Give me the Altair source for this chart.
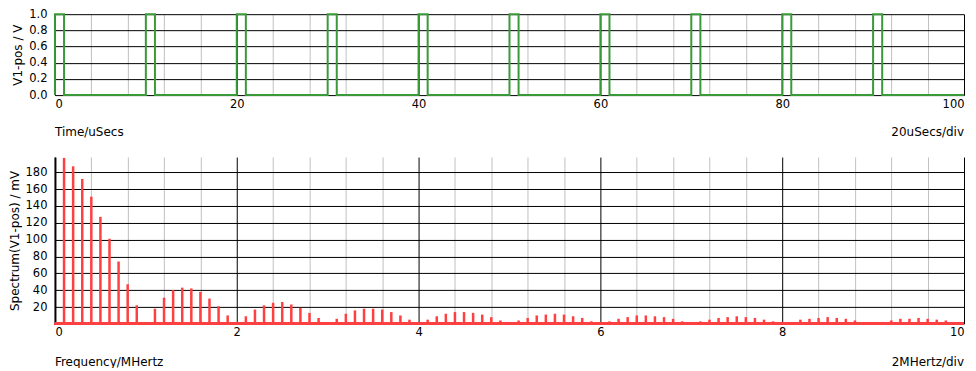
import altair as alt
import pandas as pd

# ---- data -------------------------------------------------------------
pulse_rise_us = [0, 10, 20, 30, 40, 50, 60, 70, 80, 90]
pulse_fall_us = [1, 11, 21, 31, 41, 51, 61, 71, 81, 91]
pulse_high_v = 1.0
pulse_low_v = 0.0
time_end_us = 100

harmonic_freq_mhz = [round(0.1 * k, 1) for k in range(1, 101)]
spectrum_mv = [
    197, 187, 172, 151, 127, 101, 74, 47, 22, 0,
    18, 31, 40, 43, 42, 38, 30, 21, 10, 0,
    9, 17, 22, 25, 26, 23, 19, 13, 7, 0,
    6, 12, 16, 18, 18, 17, 14, 10, 5, 0,
    5, 9, 12, 14, 14, 13, 11, 8, 4, 0,
    4, 7, 10, 11, 12, 11, 9, 7, 3, 0,
    3, 6, 8, 10, 10, 9, 8, 6, 3, 0,
    3, 5, 7, 8, 9, 8, 7, 5, 3, 0,
    2, 5, 6, 7, 8, 7, 6, 4, 2, 0,
    2, 4, 6, 6, 7, 6, 5, 4, 2, 0,
]

time_grid_us = list(range(0, 101, 4))
volt_ticks = [0.0, 0.2, 0.4, 0.6, 0.8, 1.0]
freq_grid_mhz = [round(0.4 * k, 1) for k in range(26)]
mv_ticks = [20, 40, 60, 80, 100, 120, 140, 160, 180]

top_left_note = ["Time/uSecs"]
top_right_note = ["20uSecs/div"]
bot_left_note = ["Frequency/MHertz"]
bot_right_note = ["2MHertz/div"]

# ---- tables -----------------------------------------------------------
pts = []
for r, f in zip(pulse_rise_us, pulse_fall_us):
    pts += [(r, pulse_low_v), (r, pulse_high_v), (f, pulse_high_v), (f, pulse_low_v)]
pts.append((time_end_us, pulse_low_v))
wave = pd.DataFrame({"t": [p[0] for p in pts], "v": [p[1] for p in pts],
                     "o": list(range(len(pts)))})
spec = pd.DataFrame({"f": harmonic_freq_mhz, "m": spectrum_mv})

W = 910
H1 = 81
H2 = 167
GREEN = "#3a9a3a"
RED = "#ff4040"
GREY = "#c0c0c0"


def grid_major(step):
    return {"condition": {"test": f"abs(datum.value % {step}) < 1e-6 || abs(datum.value % {step} - {step}) < 1e-6",
                          "value": "black"}, "value": GREY}


def x_axis(values, step):
    return alt.Axis(values=values, tickCount=500, title=None, domain=False, ticks=False,
                    labelFlush=True, labelFlushOffset=0, labelOverlap=False,
                    labelPadding=3,
                    labelExpr=f"abs(datum.value % {step}) < 1e-6 ? format(datum.value, 'd') : ''",
                    gridColor=grid_major(step), gridOpacity=1)


def y_axis(values, fmt, title, dw):
    return alt.Axis(values=values, tickCount=500, format=fmt, title=title, ticks=False,
                    domain=True, domainColor="black", domainWidth=dw, gridColor="black",
                    gridOpacity=1, labelPadding=8, titlePadding=4, labelOverlap=False)


# ---- top panel --------------------------------------------------------
x_top = alt.X("t:Q", scale=alt.Scale(domain=[0, time_end_us], nice=False, zero=False),
              axis=x_axis(time_grid_us, 20))
y_top = alt.Y("v:Q", scale=alt.Scale(domain=[0, 1], nice=False),
              axis=y_axis(volt_ticks, ".1f", "V1-pos / V", 1))
wave_line = alt.Chart(wave).mark_line(color=GREEN, strokeWidth=2, interpolate="linear").encode(
    x=x_top, y=y_top, order="o:Q")
tl = alt.Chart(pd.DataFrame({"s": top_left_note})).mark_text(align="left", baseline="middle").encode(
    text="s:N", x=alt.value(0), y=alt.value(H1 + 37))
tr = alt.Chart(pd.DataFrame({"s": top_right_note})).mark_text(align="right", baseline="middle").encode(
    text="s:N", x=alt.value(W), y=alt.value(H1 + 37))
top = alt.layer(wave_line, tl, tr).properties(width=W, height=H1)

# ---- bottom panel -----------------------------------------------------
x_bot = alt.X("f:Q", scale=alt.Scale(domain=[0, 10], nice=False, zero=False),
              axis=x_axis(freq_grid_mhz, 2))
y_bot = alt.Y("m:Q", scale=alt.Scale(domain=[0, 198], nice=False),
              axis=y_axis(mv_ticks, "d", "Spectrum(V1-pos) / mV", 2))
bars = alt.Chart(spec).mark_rule(color=RED, strokeWidth=2.5).encode(
    x=x_bot, y=y_bot, y2=alt.datum(0))
base = alt.Chart(spec).mark_rule(color=RED, strokeWidth=2).encode(
    x=alt.datum(0), x2=alt.datum(10), y=alt.datum(0))
bl = alt.Chart(pd.DataFrame({"s": bot_left_note})).mark_text(align="left", baseline="middle").encode(
    text="s:N", x=alt.value(0), y=alt.value(H2 + 38))
br = alt.Chart(pd.DataFrame({"s": bot_right_note})).mark_text(align="right", baseline="middle").encode(
    text="s:N", x=alt.value(W), y=alt.value(H2 + 38))
bottom = alt.layer(bars, base, bl, br).properties(width=W, height=H2)

chart = alt.vconcat(top, bottom, spacing=62, bounds="flush").properties(
    padding={"left": 0, "top": 0, "right": 0, "bottom": 0}
).configure_view(stroke=None).configure_axis(
    labelFont="DejaVu Sans", titleFont="DejaVu Sans", labelFontSize=11.5,
    titleFontSize=12, titleFontWeight="normal", labelColor="black", titleColor="black",
    gridWidth=1,
).configure_text(font="DejaVu Sans", fontSize=12, color="black")

chart.save("out.html", embed_options={"renderer": "svg", "actions": False})
